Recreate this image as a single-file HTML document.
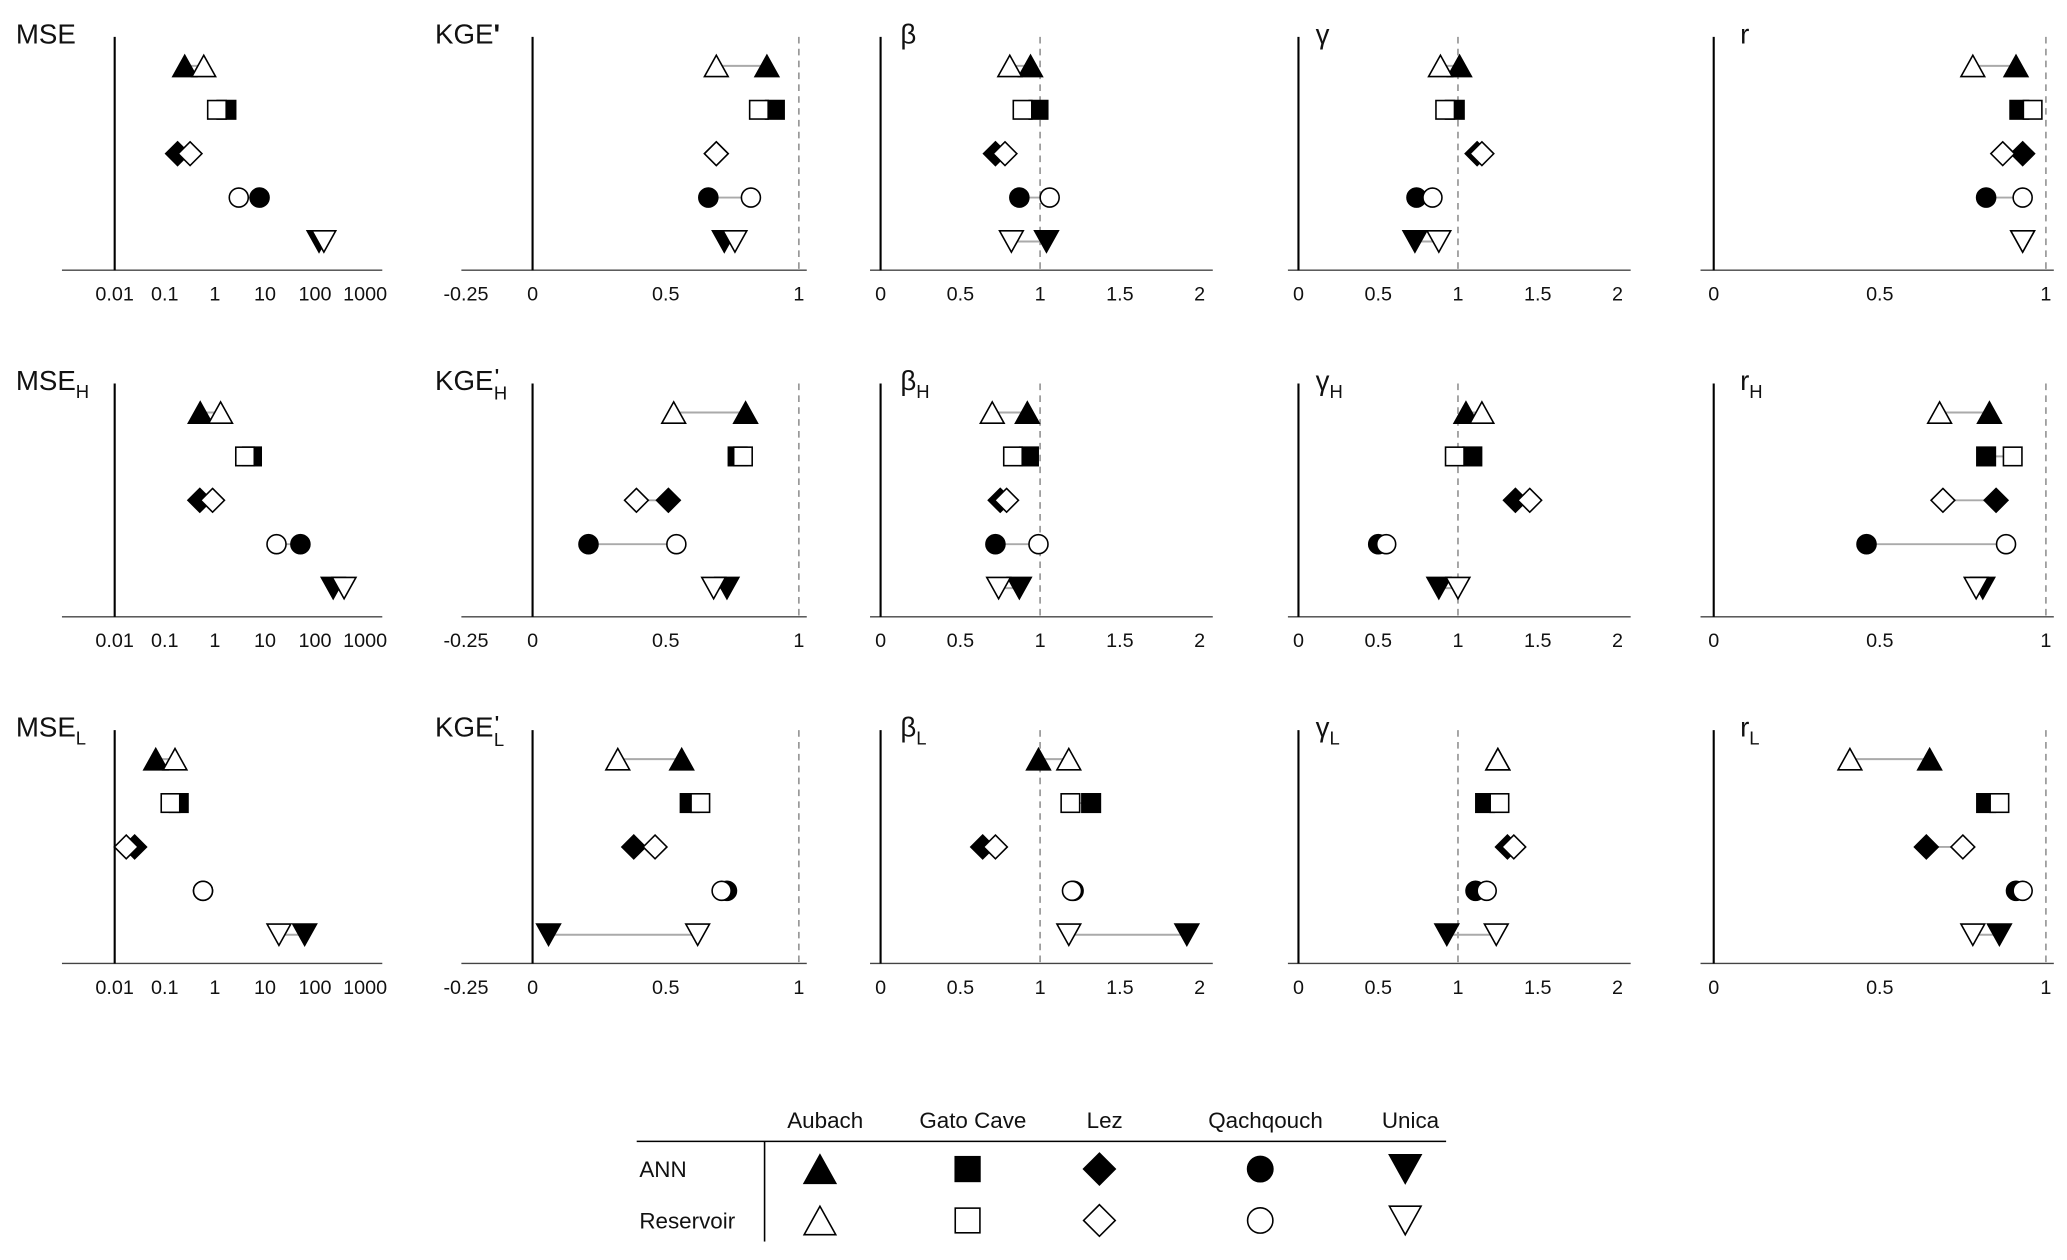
<!DOCTYPE html>
<html><head><meta charset="utf-8"><style>
html,body{margin:0;padding:0;background:#fff}
svg{display:block}
text{font-family:"Liberation Sans",sans-serif;fill:#111}
</style></head><body>
<svg id="chart" width="2067" height="1260" viewBox="0 0 1568 956" preserveAspectRatio="none" xmlns="http://www.w3.org/2000/svg"></svg>
<script>
const catchments = ["Aubach","Gato Cave","Lez","Qachqouch","Unica"];
const shapes = ["tri","sq","dia","circ","itri"];
const metrics = ["MSE","KGE","beta","gamma","r"];
const suffixes = ["","H","L"];
// values [row][metric][catchment]
const annValues = [
 [[0.25,1.7,0.18,7.8,120],[0.88,0.91,0.69,0.66,0.72],[0.94,0.99,0.72,0.87,1.04],[1.01,0.98,1.12,0.74,0.73],[0.91,0.92,0.93,0.82,0.93]],
 [[0.51,5.5,0.5,51,230],[0.80,0.77,0.51,0.21,0.73],[0.92,0.93,0.75,0.72,0.87],[1.05,1.09,1.36,0.5,0.88],[0.83,0.82,0.85,0.46,0.81]],
 [[0.066,0.19,0.025,0.58,62],[0.56,0.59,0.38,0.73,0.06],[0.99,1.32,0.64,1.21,1.92],[1.25,1.17,1.31,1.11,0.93],[0.65,0.82,0.64,0.91,0.86]]
];
const resValues = [
 [[0.6,1.1,0.32,3,150],[0.69,0.85,0.69,0.82,0.76],[0.81,0.89,0.78,1.06,0.82],[0.89,0.92,1.15,0.84,0.88],[0.78,0.96,0.87,0.93,0.93]],
 [[1.3,4,0.9,17,380],[0.53,0.79,0.39,0.54,0.68],[0.70,0.83,0.79,0.99,0.74],[1.15,0.98,1.45,0.55,1.0],[0.68,0.9,0.69,0.88,0.79]],
 [[0.16,0.13,0.017,0.58,19],[0.32,0.63,0.46,0.71,0.62],[1.18,1.19,0.72,1.2,1.18],[1.25,1.26,1.35,1.18,1.24],[0.41,0.86,0.75,0.93,0.78]]
];
const mseTicks = ["0.01","0.1","1","10","100","1000"];
const kgeTicks = ["-0.25","0","0.5","1"];
const bgTicks = ["0","0.5","1","1.5","2"];
const rTicks = ["0","0.5","1"];

const NS="http://www.w3.org/2000/svg";
const svg=document.getElementById('chart');
function el(t,a,p){const e=document.createElementNS(NS,t);for(const k in a)e.setAttribute(k,a[k]);(p||svg).appendChild(e);return e;}
const cols={
 MSE:{f:v=>87+38*(Math.log10(v)+2),x0:47,x1:290,zero:0.01,ticks:mseTicks,tv:t=>+t,dash:null,tx:12},
 KGE:{f:v=>404+202*v,x0:350,x1:612,zero:0,ticks:kgeTicks,tv:t=>+t,dash:1,tx:330},
 beta:{f:v=>668+121*v,x0:660,x1:920,zero:0,ticks:bgTicks,tv:t=>+t,dash:1,tx:683},
 gamma:{f:v=>985+121*v,x0:977,x1:1237,zero:0,ticks:bgTicks,tv:t=>+t,dash:1,tx:998},
 r:{f:v=>1300+252*v,x0:1290,x1:1558,zero:0,ticks:rTicks,tv:t=>+t,dash:1,tx:1320}
};
function marker(shape,x,y,filled,s,g){
  const st={fill:filled?'#000':'#fff',stroke:'#000','stroke-width':1.2};
  let e;
  if(shape==='tri'){const h=s*0.9;e=el('polygon',Object.assign({points:`${x-s/2},${y+h/2} ${x+s/2},${y+h/2} ${x},${y-h/2}`},st),g);}
  else if(shape==='itri'){const h=s*0.9;e=el('polygon',Object.assign({points:`${x-s/2},${y-h/2} ${x+s/2},${y-h/2} ${x},${y+h/2}`},st),g);}
  else if(shape==='sq'){const a=s*0.78;e=el('rect',Object.assign({x:x-a/2,y:y-a/2,width:a,height:a},st),g);}
  else if(shape==='dia'){const a=s*0.5;e=el('polygon',Object.assign({points:`${x},${y-a} ${x+a},${y} ${x},${y+a} ${x-a},${y}`},st),g);}
  else {e=el('circle',Object.assign({cx:x,cy:y,r:s*0.4},st),g);}
  return e;
}
const rowOff=[0,263,526];
const greek={MSE:'MSE',KGE:'KGE',beta:'β',gamma:'γ',r:'r'};
for(let ri=0;ri<3;ri++){
  const o=rowOff[ri];
  metrics.forEach((m,mi)=>{
    const c=cols[m];
    const g=el('g',{});
    
    
    const t=el('text',{x:c.tx,y:o+33,'font-size':21},g);
    
    
    t.appendChild(document.createTextNode(greek[m]));
    if(m==='KGE'){
      if(ri===0){const p=el('tspan',{'font-size':21,'font-weight':'bold'},t);p.textContent="'";}
      else{const p=el('tspan',{dx:1,dy:-6,'font-size':14,'font-weight':'bold'},t);p.textContent="'";const s=el('tspan',{dx:-4,dy:13,'font-size':14},t);s.textContent=suffixes[ri];}
    } else if(ri>0){const s=el('tspan',{dy:6,'font-size':14},t);s.textContent=suffixes[ri];}
    const ay=o+205;
    const xa=el('line',{x1:c.x0,x2:c.x1,y1:ay,y2:ay,stroke:'#444','stroke-width':1},g);
    
    
    const zx=c.f(c.zero);
    const ya=el('line',{x1:zx,x2:zx,y1:o+28,y2:ay,stroke:'#000','stroke-width':1.6},g);
    
    
    if(c.dash!==null){
      const d=el('line',{x1:c.f(c.dash),x2:c.f(c.dash),y1:o+28,y2:ay,stroke:'#999','stroke-width':1.3,'stroke-dasharray':'5,4'},g);
      
      
    }
    c.ticks.forEach(tk=>{
      const tt=el('text',{x:c.f(c.tv(tk)),y:ay+23,'font-size':15,'text-anchor':'middle',fill:'#333'},g);
      
      
      tt.textContent=tk;
    });
    catchments.forEach((cn,ci)=>{
      const y=o+50+ci*33.3;
      const xa_=c.f(annValues[ri][mi][ci]), xr=c.f(resValues[ri][mi][ci]);
      const ln=el('line',{x1:xa_,x2:xr,y1:y,y2:y,stroke:'#aaa','stroke-width':1.5},g);
      
      
      const ma=marker(shapes[ci],xa_,y,true,18,g);
      
      
      const mr=marker(shapes[ci],xr,y,false,18,g);
      
      
    });
  });
}
const lg=el('g',{});


el('line',{x1:483,x2:1097,y1:866,y2:866,stroke:'#000','stroke-width':1.2},lg);
el('line',{x1:580,x2:580,y1:866,y2:942,stroke:'#000','stroke-width':1.2},lg);
const lx=[626,738,838,960,1070];
catchments.forEach((cn,ci)=>{
  const t=el('text',{x:lx[ci],y:856,'font-size':17,'text-anchor':'middle'},lg);
  
  
  t.textContent=cn;
  const a=marker(shapes[ci],lx[ci]-4,887,true,24,lg);
  
  
  const r=marker(shapes[ci],lx[ci]-4,926,false,24,lg);
  
  
});
const t1=el('text',{x:485,y:893,'font-size':17},lg);t1.textContent='ANN';


const t2=el('text',{x:485,y:932,'font-size':17},lg);t2.textContent='Reservoir';


</script>
</body></html>
